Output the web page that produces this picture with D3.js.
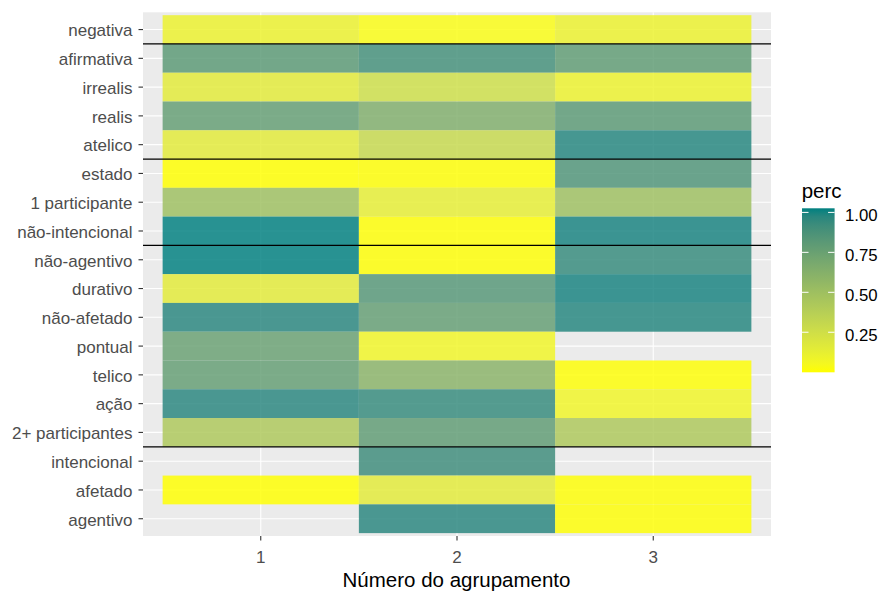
<!DOCTYPE html>
<html>
<head>
<meta charset="utf-8">
<script src="https://cdn.jsdelivr.net/npm/d3@7"></script>
<style>
  html, body { margin: 0; padding: 0; background: #ffffff; }
  svg { display: block; font-family: "Liberation Sans", Arial, sans-serif; }
</style>
</head>
<body>
<svg id="chart" width="881" height="592"></svg>
<script>
// Categories, top row first
const categories = [
  "negativa", "afirmativa", "irrealis", "realis", "atelico", "estado",
  "1 participante", "não-intencional", "não-agentivo", "durativo",
  "não-afetado", "pontual", "telico", "ação", "2+ participantes",
  "intencional", "afetado", "agentivo"
];

// Cluster numbers on the x axis
const clusters = [1, 2, 3];

// Share of each category in cluster 1, 2 and 3 (null = no tile)
const cluster1 = [0.12, 0.80, 0.17, 0.76, 0.17, 0.025, 0.50, 1.00, 1.00, 0.17, 0.95, 0.74, 0.76, 0.95, 0.43, null, 0.025, null];
const cluster2 = [0.05, 0.88, 0.27, 0.64, 0.31, 0.03, 0.15, 0.03, 0.03, 0.82, 0.76, 0.10, 0.60, 0.92, 0.78, 0.90, 0.17, 0.95];
const cluster3 = [0.12, 0.78, 0.12, 0.80, 0.96, 0.84, 0.50, 0.98, 0.92, 0.98, 0.96, null, 0.03, 0.10, 0.43, null, 0.03, 0.03];

// Horizontal separators drawn just below these categories
const separatorsBelow = ["negativa", "atelico", "não-intencional", "2+ participantes"];

// Legend breaks
const legendBreaks = [0.25, 0.50, 0.75, 1.00];

const seriesList = [cluster1, cluster2, cluster3];
const cells = [];
seriesList.forEach((vals, ci) => {
  vals.forEach((v, ri) => {
    if (v !== null) cells.push({ cluster: clusters[ci], cat: categories[ri], perc: v });
  });
});

const svg = d3.select("#chart");
const panel = { left: 143, right: 771, top: 12.3, bottom: 536 };
const nRows = categories.length;
const tickFont = 17;
const titleFont = 20.5;

// Discrete positions mapped on a numeric axis (bottom row = 1)
const rowIndex = new Map(categories.map((c, i) => [c, nRows - i]));
const x = d3.scaleLinear().domain([0.4, 3.6]).range([panel.left, panel.right]);
const y = d3.scaleLinear().domain([0.4, nRows + 0.6]).range([panel.bottom, panel.top]);

const ext = d3.extent(cells, d => d.perc);
const color = d3.scaleLinear().domain(ext).range(["#ffff00", "#008080"]).interpolate(d3.interpolateLab);

// Panel background
svg.append("rect")
  .attr("x", panel.left).attr("y", panel.top)
  .attr("width", panel.right - panel.left).attr("height", panel.bottom - panel.top)
  .attr("fill", "#ebebeb");

// Grid lines
const grid = svg.append("g").attr("stroke", "#ffffff").attr("stroke-width", 1.1);
clusters.forEach(c => {
  grid.append("line").attr("x1", x(c)).attr("x2", x(c)).attr("y1", panel.top).attr("y2", panel.bottom);
});
categories.forEach(c => {
  const yy = y(rowIndex.get(c));
  grid.append("line").attr("x1", panel.left).attr("x2", panel.right).attr("y1", yy).attr("y2", yy);
});

// Tiles
svg.append("g").selectAll("rect").data(cells).join("rect")
  .attr("x", d => x(d.cluster - 0.5))
  .attr("y", d => y(rowIndex.get(d.cat) + 0.5))
  .attr("width", d => x(d.cluster + 0.5) - x(d.cluster - 0.5))
  .attr("height", d => y(rowIndex.get(d.cat) - 0.5) - y(rowIndex.get(d.cat) + 0.5))
  .attr("fill", d => color(d.perc))
  .attr("fill-opacity", 0.83);

// Separators
svg.append("g").selectAll("line").data(separatorsBelow).join("line")
  .attr("x1", panel.left).attr("x2", panel.right)
  .attr("y1", d => y(rowIndex.get(d) - 0.5)).attr("y2", d => y(rowIndex.get(d) - 0.5))
  .attr("stroke", "#000000").attr("stroke-width", 1.2);

// Y axis
const yAxis = svg.append("g");
categories.forEach(c => {
  const yy = y(rowIndex.get(c));
  yAxis.append("line").attr("x1", panel.left - 4.5).attr("x2", panel.left).attr("y1", yy).attr("y2", yy)
    .attr("stroke", "#333333").attr("stroke-width", 1.1);
  yAxis.append("text").attr("x", 132.5).attr("y", yy).attr("dy", "0.4em")
    .attr("text-anchor", "end").attr("font-size", tickFont).attr("fill", "#4d4d4d").text(c);
});

// X axis
const xAxis = svg.append("g");
clusters.forEach(c => {
  xAxis.append("line").attr("x1", x(c)).attr("x2", x(c)).attr("y1", panel.bottom).attr("y2", panel.bottom + 4.5)
    .attr("stroke", "#333333").attr("stroke-width", 1.1);
  xAxis.append("text").attr("x", x(c)).attr("y", panel.bottom + 27.3)
    .attr("text-anchor", "middle").attr("font-size", tickFont).attr("fill", "#4d4d4d").text(c);
});
svg.append("text").attr("x", 456.5).attr("y", 586.5)
  .attr("text-anchor", "middle").attr("font-size", titleFont).attr("fill", "#000000")
  .text("Número do agrupamento");

// Legend colourbar
const bar = { x: 802, y: 208.3, w: 32.6, h: 164 };
const nbin = 20;
const half = bar.h / nbin / 2;
const legY = d3.scaleLinear().domain(ext).range([bar.y + bar.h - half, bar.y + half]);

const defs = svg.append("defs");
const grad = defs.append("linearGradient").attr("id", "percGrad")
  .attr("x1", 0).attr("y1", 1).attr("x2", 0).attr("y2", 0);
d3.range(0, 21).forEach(i => {
  const t = i / 20;
  grad.append("stop").attr("offset", t)
    .attr("stop-color", color(ext[0] + t * (ext[1] - ext[0])));
});
svg.append("rect").attr("x", bar.x).attr("y", bar.y).attr("width", bar.w).attr("height", bar.h)
  .attr("fill", "url(#percGrad)");

const legend = svg.append("g");
legendBreaks.forEach(b => {
  const yy = legY(b);
  legend.append("line").attr("x1", bar.x).attr("x2", bar.x + bar.w / 5).attr("y1", yy).attr("y2", yy)
    .attr("stroke", "#ffffff").attr("stroke-width", 1);
  legend.append("line").attr("x1", bar.x + bar.w * 4 / 5).attr("x2", bar.x + bar.w).attr("y1", yy).attr("y2", yy)
    .attr("stroke", "#ffffff").attr("stroke-width", 1);
  legend.append("text").attr("x", 845).attr("y", yy + 3).attr("dy", "0.36em")
    .attr("font-size", 16.8).attr("fill", "#000000").text(b.toFixed(2));
});
svg.append("text").attr("x", 801.7).attr("y", 198.3).attr("font-size", titleFont).attr("fill", "#000000").text("perc");
</script>
</body>
</html>
